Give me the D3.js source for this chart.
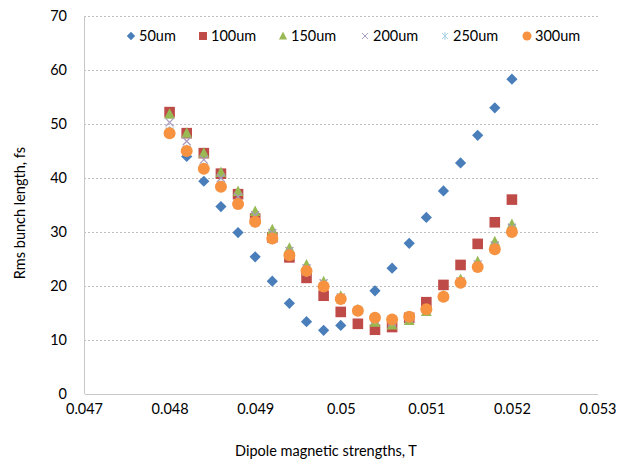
<!DOCTYPE html>
<html>
<head>
<meta charset="utf-8">
<script src="https://cdn.jsdelivr.net/npm/d3@7"></script>
<style>
  body { margin: 0; background: #fff; }
  text { font-family: Lato, "Open Sans", sans-serif; fill: #000; }
</style>
</head>
<body>
<svg id="chart" width="629" height="461"></svg>
<script>
const fields = [0.048, 0.0482, 0.0484, 0.0486, 0.0488, 0.049, 0.0492, 0.0494, 0.0496, 0.0498, 0.05,
                0.0502, 0.0504, 0.0506, 0.0508, 0.051, 0.0512, 0.0514, 0.0516, 0.0518, 0.052];
const seriesNames = ["50um", "100um", "150um", "200um", "250um", "300um"];
const s50  = [48.5, 44.0, 39.4, 34.7, 29.9, 25.4, 20.9, 16.8, 13.4, 11.8, 12.7, 15.5, 19.1, 23.3, 27.9, 32.7, 37.6, 42.8, 47.9, 53.0, 58.3];
const s100 = [52.2, 48.3, 44.6, 40.8, 37.0, 32.5, 29.0, 25.3, 21.5, 18.2, 15.2, 13.0, 11.9, 12.4, 14.1, 17.0, 20.2, 23.9, 27.8, 31.8, 36.0];
const s150 = [51.8, 48.3, 44.6, 41.0, 37.5, 33.8, 30.4, 27.0, 23.9, 20.8, 18.1, 15.6, 13.3, 12.8, 13.6, 15.3, 18.2, 21.2, 24.5, 28.2, 31.4];
const s200 = [50.3, 46.8, 43.4, 40.0, 36.5, 33.1, 29.8, 26.5, 23.3, 20.5, 17.9, 15.5, 13.8, 13.3, 14.0, 15.6, 18.0, 20.9, 24.0, 27.5, 30.8];
const s250 = [48.6, 45.2, 41.8, 38.5, 35.2, 31.8, 28.7, 25.7, 22.7, 19.9, 17.5, 15.4, 14.0, 13.7, 14.3, 15.6, 18.0, 20.6, 23.5, 26.8, 30.1];
const s300 = [48.3, 45.0, 41.7, 38.4, 35.2, 31.9, 28.8, 25.7, 22.8, 19.9, 17.6, 15.4, 14.1, 13.8, 14.3, 15.7, 18.0, 20.6, 23.5, 26.8, 30.0];
const xTicks = [0.047, 0.048, 0.049, 0.05, 0.051, 0.052, 0.053];
const yTicks = [0, 10, 20, 30, 40, 50, 60, 70];
const xTitle = "Dipole magnetic strengths, T";
const yTitle = "Rms bunch length, fs";

const seriesValues = [s50, s100, s150, s200, s250, s300];
const colors = ["#4a7ebb", "#be4b48", "#98b954", "#a99bbd", "#a5d1e0", "#f69240"];
const shapes = ["diamond", "square", "triangle", "x", "star", "circle"];

const svg = d3.select("#chart");
const pLeft = 84, pRight = 597.5, pTop = 16, pBottom = 394;
const fontSize = 14.5;
const x = d3.scaleLinear().domain([0.047, 0.053]).range([pLeft, pRight]);
const y = d3.scaleLinear().domain([0, 70]).range([pBottom, pTop]);

// gridlines
svg.append("g").selectAll("line").data(yTicks.filter(d => d > 0)).join("line")
  .attr("x1", pLeft).attr("x2", pRight)
  .attr("y1", d => y(d)).attr("y2", d => y(d))
  .attr("stroke", "#bdbdbd").attr("stroke-width", 1).attr("stroke-dasharray", "2,2")
  .attr("shape-rendering", "crispEdges");

// axes
const xAxis = svg.append("g").attr("transform", `translate(0,${pBottom})`)
  .call(d3.axisBottom(x).tickValues(xTicks).tickSize(0).tickPadding(10).tickFormat(d => String(+d.toFixed(3))));
const yAxis = svg.append("g").attr("transform", `translate(${pLeft},0)`)
  .call(d3.axisLeft(y).tickValues(yTicks).tickSize(0).tickPadding(17));
[xAxis, yAxis].forEach(a => {
  a.select(".domain").attr("stroke", "#c8c8c8").attr("shape-rendering", "crispEdges");
  a.selectAll("text").attr("font-size", fontSize).attr("font-family", "Lato, sans-serif").attr("fill", "#000");
});
yAxis.select(".domain").remove();
svg.append("line").attr("x1", pLeft).attr("x2", pLeft).attr("y1", pTop).attr("y2", pBottom)
  .attr("stroke", "#c8c8c8").attr("shape-rendering", "crispEdges");

// titles
svg.append("text").attr("x", 326).attr("y", 456).attr("text-anchor", "middle")
  .attr("font-size", fontSize).text(xTitle);
svg.append("text").attr("transform", `translate(25,${(pTop + pBottom) / 2 + 8}) rotate(-90)`)
  .attr("text-anchor", "middle").attr("font-size", fontSize).text(yTitle);

function drawMarker(g, shape, color) {
  if (shape === "diamond") {
    g.append("path").attr("d", "M0,-5.6L5.6,0L0,5.6L-5.6,0Z").attr("fill", color);
  } else if (shape === "square") {
    g.append("rect").attr("x", -5.3).attr("y", -5.3).attr("width", 10.6).attr("height", 10.6).attr("fill", color);
  } else if (shape === "triangle") {
    g.append("path").attr("d", "M0,-6L5.4,4.5L-5.4,4.5Z").attr("fill", color);
  } else if (shape === "x") {
    g.append("path").attr("d", "M-4,-4L4,4M-4,4L4,-4").attr("stroke", color).attr("stroke-width", 1.3).attr("fill", "none");
  } else if (shape === "star") {
    g.append("path").attr("d", "M-4,-4L4,4M-4,4L4,-4M0,-5.5L0,5.5").attr("stroke", color).attr("stroke-width", 1.3).attr("fill", "none");
  } else {
    g.append("circle").attr("r", 6).attr("fill", color);
  }
}

// data markers
seriesValues.forEach((vals, si) => {
  const g = svg.append("g");
  vals.forEach((v, i) => {
    const m = g.append("g").attr("transform", `translate(${x(fields[i])},${y(v)})`);
    drawMarker(m, shapes[si], colors[si]);
  });
});

// legend
const legendX = [131, 203, 283, 365, 445, 527];
const legend = svg.append("g");
seriesNames.forEach((name, i) => {
  const m = legend.append("g").attr("transform", `translate(${legendX[i]},36) scale(0.75)`);
  drawMarker(m, shapes[i], colors[i]);
  legend.append("text").attr("x", legendX[i] + 8).attr("y", 41).attr("font-size", fontSize).text(name);
});
</script>
</body>
</html>
